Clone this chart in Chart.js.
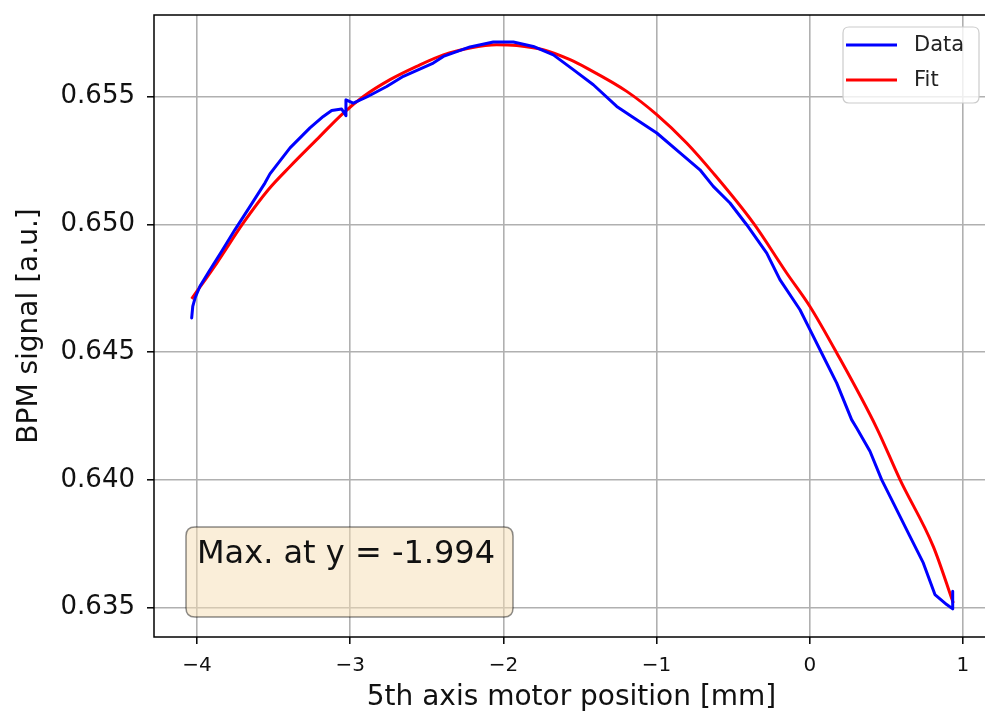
<!DOCTYPE html>
<html>
<head>
<meta charset="utf-8">
<script src="https://cdn.jsdelivr.net/npm/chart.js@4/dist/chart.umd.min.js"></script>
<style>
  html, body { margin: 0; padding: 0; overflow: hidden; background: #fff; }
  #wrap { position: absolute; left: 0; top: 0; width: 995px; height: 713px; }
</style>
</head>
<body>
<div id="wrap"><canvas id="c" width="995" height="713"></canvas></div>
<script>
// ---- data ----
const xTicks = [-4, -3, -2, -1, 0, 1];
const yTicks = [0.635, 0.640, 0.645, 0.650, 0.655];
const xRange = [-4.281, 1.170];
const yRange = [0.63385, 0.65820];

const dataX = [-4.035, -4.028, -4.013, -3.981, -3.915, -3.839, -3.752, -3.654, -3.557, -3.524,
  -3.393, -3.263, -3.176, -3.121, -3.056, -3.028, -3.028, -2.980, -2.892, -2.762,
  -2.653, -2.458, -2.392, -2.218, -2.066, -1.935, -1.805, -1.674, -1.544, -1.413,
  -1.260, -1.130, -0.999, -0.847, -0.717, -0.630, -0.521, -0.412, -0.281, -0.195,
  -0.064, 0.001, 0.088, 0.176, 0.273, 0.306, 0.393, 0.469, 0.545, 0.654,
  0.741, 0.817, 0.894, 0.933, 0.933];
const dataY = [0.64634, 0.64679, 0.64712, 0.64758, 0.64823, 0.64895, 0.64980, 0.65071, 0.65162, 0.65198,
  0.65300, 0.65378, 0.65423, 0.65446, 0.65452, 0.65426, 0.65488, 0.65475, 0.65499, 0.65540,
  0.65580, 0.65632, 0.65658, 0.65695, 0.65714, 0.65714, 0.65697, 0.65664, 0.65606, 0.65547,
  0.65462, 0.65410, 0.65358, 0.65280, 0.65214, 0.65149, 0.65084, 0.64999, 0.64888, 0.64784,
  0.64666, 0.64588, 0.64484, 0.64379, 0.64236, 0.64203, 0.64112, 0.64001, 0.63910, 0.63779,
  0.63675, 0.63551, 0.63512, 0.63495, 0.63564];

const fitX = [-4.035, -3.871, -3.698, -3.535, -3.393, -3.219, -3.045, -2.914, -2.740, -2.566,
  -2.392, -2.218, -2.044, -1.913, -1.740, -1.565, -1.456, -1.195, -0.999, -0.804,
  -0.630, -0.369, -0.151, 0.001, 0.176, 0.437, 0.589, 0.806, 0.937];
const fitY = [0.64709, 0.64849, 0.65006, 0.65136, 0.65227, 0.65332, 0.65436, 0.65501, 0.65567, 0.65619,
  0.65664, 0.65691, 0.65704, 0.65701, 0.65684, 0.65645, 0.65612, 0.65521, 0.65430, 0.65319,
  0.65201, 0.65006, 0.64810, 0.64679, 0.64497, 0.64203, 0.64001, 0.63740, 0.63518];

const seriesLabels = ['Data', 'Fit'];
const seriesColors = ['#0000ff', '#ff0000'];
const annotationText = 'Max. at y = -1.994';
const xTitle = '5th axis motor position [mm]';
const yTitle = 'BPM signal [a.u.]';

const FONT = "'DejaVu Sans', sans-serif";

function roundRectPath(ctx, x, y, w, h, r) {
  ctx.beginPath();
  ctx.moveTo(x + r, y);
  ctx.lineTo(x + w - r, y);
  ctx.quadraticCurveTo(x + w, y, x + w, y + r);
  ctx.lineTo(x + w, y + h - r);
  ctx.quadraticCurveTo(x + w, y + h, x + w - r, y + h);
  ctx.lineTo(x + r, y + h);
  ctx.quadraticCurveTo(x, y + h, x, y + h - r);
  ctx.lineTo(x, y + r);
  ctx.quadraticCurveTo(x, y, x + r, y);
  ctx.closePath();
}

const decorPlugin = {
  id: 'decor',
  afterDatasetsDraw(chart) {
    const { ctx, chartArea: a } = chart;
    ctx.save();
    // spines
    ctx.strokeStyle = '#000';
    ctx.lineWidth = 1.5;
    ctx.strokeRect(a.left, a.top, a.right - a.left, a.bottom - a.top);

    // annotation box (lower left)
    const bx = a.left + 32, by = a.bottom - 110, bw = 327, bh = 90;
    roundRectPath(ctx, bx, by, bw, bh, 9);
    ctx.fillStyle = 'rgba(245,222,179,0.5)';
    ctx.fill();
    ctx.strokeStyle = 'rgba(0,0,0,0.45)';
    ctx.lineWidth = 1.5;
    ctx.stroke();
    ctx.fillStyle = '#111';
    ctx.font = '32px ' + FONT;
    ctx.textBaseline = 'alphabetic';
    ctx.textAlign = 'left';
    ctx.fillText(annotationText, bx + 11, by + 36);

    // legend (upper right)
    const lx = 843, ly = a.top + 12, lw = 136, lh = 76;
    roundRectPath(ctx, lx, ly, lw, lh, 6);
    ctx.fillStyle = 'rgba(255,255,255,0.8)';
    ctx.fill();
    ctx.strokeStyle = '#cccccc';
    ctx.lineWidth = 1.2;
    ctx.stroke();
    ctx.font = '21px ' + FONT;
    ctx.textBaseline = 'middle';
    chart.data.datasets.forEach((ds, i) => {
      const yy = ly + 18 + i * 35;
      ctx.strokeStyle = ds.borderColor;
      ctx.lineWidth = 3;
      ctx.beginPath();
      ctx.moveTo(lx + 3, yy);
      ctx.lineTo(lx + 54, yy);
      ctx.stroke();
      ctx.fillStyle = '#222';
      ctx.fillText(ds.label, lx + 71, yy + 1);
    });
    ctx.restore();
  }
};

const toPoints = (xs, ys) => xs.map((x, i) => ({ x: x, y: ys[i] }));

new Chart(document.getElementById('c'), {
  type: 'scatter',
  data: {
    datasets: [
      { label: seriesLabels[0], data: toPoints(dataX, dataY), showLine: true,
        borderColor: seriesColors[0], backgroundColor: seriesColors[0],
        borderWidth: 3, pointRadius: 0, tension: 0, borderJoinStyle: 'round', borderCapStyle: 'round' },
      { label: seriesLabels[1], data: toPoints(fitX, fitY), showLine: true,
        borderColor: seriesColors[1], backgroundColor: seriesColors[1],
        borderWidth: 3, pointRadius: 0, cubicInterpolationMode: 'monotone' }
    ]
  },
  options: {
    responsive: false,
    animation: false,
    devicePixelRatio: 1,
    layout: { padding: { left: 0, right: 6, top: 15, bottom: 0 } },
    plugins: { legend: { display: false }, tooltip: { enabled: false } },
    scales: {
      x: {
        type: 'linear', min: xRange[0], max: xRange[1],
        afterBuildTicks: s => { s.ticks = xTicks.map(v => ({ value: v })); },
        afterFit: s => { s.height = 76; s.paddingLeft = 0; s.paddingRight = 0; },
        border: { display: false },
        grid: { color: '#b0b0b0', lineWidth: 1.6, drawTicks: true, tickLength: 7,
                tickColor: '#000', tickWidth: 1.5 },
        ticks: { color: '#111', font: { family: FONT, size: 20 }, padding: 10,
                 maxRotation: 0, autoSkip: false,
                 callback: v => String(v).replace('-', '\u2212') },
        title: { display: true, text: xTitle, color: '#111',
                 font: { family: FONT, size: 28, lineHeight: 1.0 },
                 padding: { top: 0, bottom: 1 } }
      },
      y: {
        type: 'linear', min: yRange[0], max: yRange[1],
        afterBuildTicks: s => { s.ticks = yTicks.map(v => ({ value: v })); },
        afterFit: s => { s.width = 154; s.paddingTop = 0; s.paddingBottom = 0; },
        border: { display: false },
        grid: { color: '#b0b0b0', lineWidth: 1.6, drawTicks: true, tickLength: 7,
                tickColor: '#000', tickWidth: 1.5 },
        ticks: { color: '#111', font: { family: FONT, size: 26 }, padding: 12,
                 autoSkip: false, callback: v => v.toFixed(3) },
        title: { display: true, text: yTitle, color: '#111',
                 font: { family: FONT, size: 28, lineHeight: 1.0 },
                 padding: { top: 16, bottom: 0 } }
      }
    }
  },
  plugins: [decorPlugin]
});
</script>
</body>
</html>
